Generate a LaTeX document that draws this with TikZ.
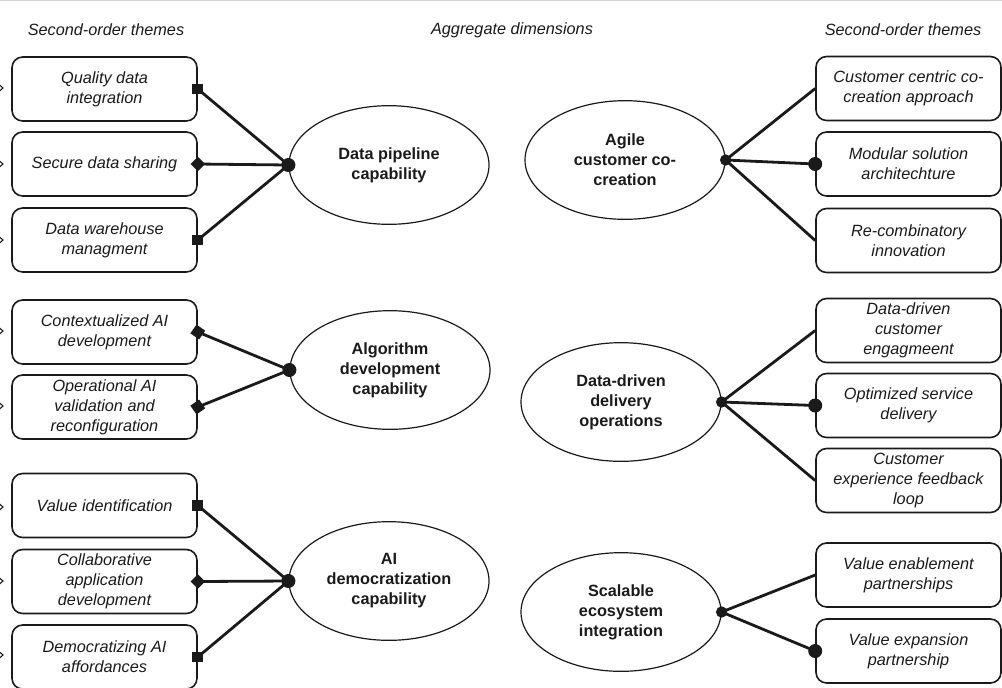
\documentclass[tikz,border=0pt]{standalone}
\usepackage{fontspec}
\setmainfont{Liberation Sans}
\usetikzlibrary{shapes.geometric}
\definecolor{ink}{HTML}{1A1A1A}
\begin{document}
\begin{tikzpicture}[x=0.75pt,y=-0.75pt,
  every node/.style={text=ink},
  box/.style={draw=ink, line width=1.2pt, rounded corners=8pt, minimum width=138.75pt, minimum height=48pt, inner sep=0pt, align=center, font=\fontsize{12.2}{15}\selectfont\itshape},
  dim/.style={draw=ink, line width=0.9pt, ellipse, minimum width=150pt, minimum height=89pt, inner sep=0pt, align=center, font=\fontsize{12.2}{15}\selectfont\bfseries},
  head/.style={font=\fontsize{12.2}{15}\selectfont\itshape},
  conn/.style={draw=ink, line width=2.1pt},
  bigdot/.style={circle, fill=ink, inner sep=0pt, minimum size=10.5pt},
  hubdot/.style={circle, fill=ink, inner sep=0pt, minimum size=8.5pt},
  sqmark/.style={rectangle, fill=ink, inner sep=0pt, minimum size=8pt},
  dmark/.style={diamond, fill=ink, inner sep=0pt, minimum width=11pt, minimum height=11pt},
  chev/.style={draw=ink, line width=0.8pt}
]
\useasboundingbox (0,0) rectangle (1002,687);
\draw[gray!35, line width=1pt] (0,0.7) -- (1002,0.7);

% headers
\node[head] (h1) at (106,30) {Second-order themes};
\node[head] (h2) at (512,30) {Aggregate dimensions};
\node[head] (h3) at (903,30) {Second-order themes};

% left boxes
\node[box] (l1) at (104.5,89) {Quality data\\integration};
\node[box] (l2) at (104.5,164) {Secure data sharing};
\node[box] (l3) at (104.5,240) {Data warehouse\\managment};
\node[box] (l4) at (104.5,332) {Contextualized AI\\development};
\node[box] (l5) at (104.5,407) {Operational AI\\validation and\\reconfiguration};
\node[box] (l6) at (104.5,505.5) {Value identification};
\node[box] (l7) at (104.5,581.5) {Collaborative\\application\\development};
\node[box] (l8) at (104.5,657) {Democratizing AI\\affordances};

% left aggregate dimensions
\node[dim] (e1) at (389,165) {Data pipeline\\capability};
\node[dim] (e2) at (390,370) {Algorithm\\development\\capability};
\node[dim] (e3) at (389,581) {AI\\democratization\\capability};

% right aggregate dimensions
\node[dim] (a1) at (625,160) {Agile\\customer co-\\creation};
\node[dim] (a2) at (621,402) {Data-driven\\delivery\\operations};
\node[dim] (a3) at (621,612) {Scalable\\ecosystem\\integration};

% right boxes
\node[box] (r1) at (908.5,88.5) {Customer centric co-\\creation approach};
\node[box] (r2) at (908.5,164) {Modular solution\\architechture};
\node[box] (r3) at (908.5,240.5) {Re-combinatory\\innovation};
\node[box] (r4) at (908.5,330.5) {Data-driven\\customer\\engagmeent};
\node[box] (r5) at (908.5,405.5) {Optimized service\\delivery};
\node[box] (r6) at (908.5,480.5) {Customer\\experience feedback\\loop};
\node[box] (r7) at (908.5,575) {Value enablement\\partnerships};
\node[box] (r8) at (908.5,651) {Value expansion\\partnership};

% left connectors
\foreach \b/\e in {l1/e1,l2/e1,l3/e1,l4/e2,l5/e2,l6/e3,l7/e3,l8/e3}
  \draw[conn] (\b.east) -- (\e.west);
% right connectors
\foreach \e/\b in {a1/r1,a1/r2,a1/r3,a2/r4,a2/r5,a2/r6,a3/r7,a3/r8}
  \draw[conn] (\e.east) -- (\b.west);

% markers on left
\node[sqmark] (m1) at (l1.east) {};
\node[dmark]  (m2) at (l2.east) {};
\node[sqmark] (m3) at (l3.east) {};
\node[sqmark, rotate=-35] (m4) at (l4.east) {};
\node[sqmark, rotate=35] (m5) at (l5.east) {};
\node[sqmark] (m6) at (l6.east) {};
\node[dmark]  (m7) at (l7.east) {};
\node[sqmark] (m8) at (l8.east) {};
\node[bigdot] (d1) at (e1.west) {};
\node[bigdot] (d2) at (e2.west) {};
\node[bigdot] (d3) at (e3.west) {};

% markers on right
\node[hubdot] (k1) at (a1.east) {};
\node[hubdot] (k2) at (a2.east) {};
\node[hubdot] (k3) at (a3.east) {};
\node[bigdot] (n2) at (r2.west) {};
\node[bigdot] (n5) at (r5.west) {};
\node[bigdot] (n8) at (r8.west) {};

% cut-off arrow tips at left edge
\foreach \y in {88,164,240,331,406,507,581,655}
  \draw[chev] (-1,\y-3.5) -- (3,\y) -- (-1,\y+3.5);
\end{tikzpicture}
\end{document}
